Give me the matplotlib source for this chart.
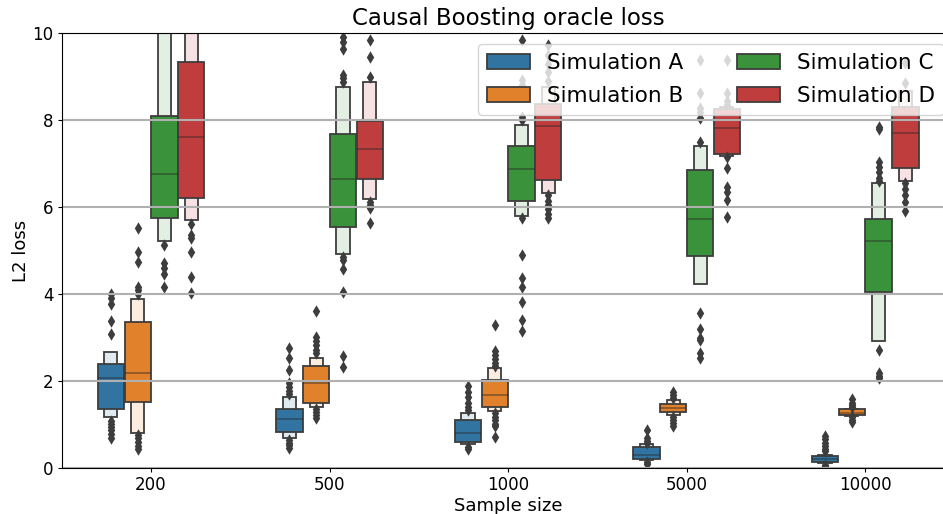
import colorsys
import matplotlib
matplotlib.use("Agg")
import matplotlib.pyplot as plt
import matplotlib.colors as mcolors
from matplotlib.patches import Rectangle

# ---------------- data ----------------
sizes = ["200", "500", "1000", "5000", "10000"]
sims = ["Simulation A", "Simulation B", "Simulation C", "Simulation D"]
base_colors = ["#1f77b4", "#ff7f0e", "#2ca02c", "#d62728"]

# Simulation A
med_A = [2.07, 1.11, 0.81, 0.29, 0.19]
q1_A = [1.35, 0.83, 0.60, 0.21, 0.13]
q3_A = [2.39, 1.36, 1.10, 0.48, 0.27]
lo_A = [1.17, 0.69, 0.54, 0.18, 0.10]
hi_A = [2.66, 1.63, 1.25, 0.54, 0.30]
out_A = [
    [4.01, 3.91, 3.77, 3.38, 3.07, 1.08, 1.00, 0.93, 0.86, 0.78, 0.68],
    [2.76, 2.52, 2.25, 1.94, 1.85, 1.77, 1.70, 0.64, 0.58, 0.52, 0.46],
    [1.88, 1.75, 1.62, 1.50, 1.40, 1.32, 0.48, 0.43],
    [0.87, 0.68, 0.62, 0.57, 0.14, 0.09],
    [0.73, 0.66, 0.58, 0.50, 0.44, 0.38, 0.06, 0.03],
]

# Simulation B
med_B = [2.17, 1.94, 1.67, 1.38, 1.27]
q1_B = [1.51, 1.50, 1.40, 1.29, 1.21]
q3_B = [3.35, 2.33, 2.02, 1.47, 1.34]
lo_B = [0.81, 1.40, 1.31, 1.21, 1.19]
hi_B = [3.88, 2.53, 2.29, 1.56, 1.36]
out_B = [
    [5.51, 4.96, 4.74, 4.15, 4.08, 4.01, 0.76, 0.68, 0.60, 0.50, 0.42],
    [3.61, 3.02, 2.92, 2.82, 2.72, 2.63, 1.36, 1.29, 1.22, 1.14],
    [3.29, 2.69, 2.60, 2.50, 2.40, 2.35, 1.25, 1.17, 1.09, 1.01, 0.95, 0.71],
    [1.75, 1.68, 1.61, 1.17, 1.10, 1.03, 0.96],
    [1.57, 1.50, 1.45, 1.40, 1.16, 1.10, 1.05],
]

# Simulation C
med_C = [6.75, 6.64, 6.87, 5.72, 5.22]
q1_C = [5.74, 5.55, 6.14, 4.87, 4.05]
q3_C = [8.10, 7.68, 7.41, 6.85, 5.72]
lo_C = [5.23, 4.92, 5.79, 4.23, 2.92]
hi_C = [11.0, 8.77, 7.89, 7.41, 6.56]
out_C = [
    [12.0, 11.6, 5.13, 4.71, 4.59, 4.47, 4.17],
    [9.92, 9.81, 9.65, 9.04, 8.96, 8.89, 4.86, 4.78, 4.57, 4.05, 2.57, 2.31],
    [9.85, 8.92, 8.81, 8.07, 8.00, 5.74, 4.90, 4.36, 4.17, 3.82, 3.40, 3.15],
    [9.39, 8.62, 8.28, 8.19, 8.04, 7.50, 3.55, 3.19, 2.98, 2.94, 2.63, 2.52],
    [7.85, 7.80, 7.04, 6.92, 6.80, 6.68, 6.60, 2.71, 2.17, 2.12, 2.06],
]

# Simulation D
med_D = [7.62, 7.34, 7.86, 7.81, 7.71]
q1_D = [6.22, 6.64, 6.62, 7.21, 6.91]
q3_D = [9.34, 7.99, 8.37, 8.25, 8.30]
lo_D = [5.70, 6.19, 6.33, 7.18, 6.60]
hi_D = [10.8, 8.87, 8.76, 8.30, 8.68]
out_D = [
    [11.8, 11.3, 5.61, 5.36, 5.28, 4.97, 4.40, 4.03],
    [9.85, 9.46, 9.00, 6.12, 6.05, 5.97, 5.63],
    [9.73, 9.50, 9.30, 9.10, 8.90, 6.28, 6.15, 6.05, 5.95, 5.85, 5.75],
    [9.39, 8.62, 8.45, 8.35, 7.16, 6.89, 6.47, 6.35, 6.16, 5.78],
    [9.31, 8.85, 6.55, 6.42, 6.28, 6.12, 5.92],
]

medians = [med_A, med_B, med_C, med_D]
q1s = [q1_A, q1_B, q1_C, q1_D]
q3s = [q3_A, q3_B, q3_C, q3_D]
los = [lo_A, lo_B, lo_C, lo_D]
his = [hi_A, hi_B, hi_C, hi_D]
outs = [out_A, out_B, out_C, out_D]


def desaturate(c, prop=0.75):
    r, g, b = mcolors.to_rgb(c)
    h, l, s = colorsys.rgb_to_hls(r, g, b)
    return colorsys.hls_to_rgb(h, l, s * prop)


colors = [desaturate(c) for c in base_colors]
lights = [tuple(v + 0.85 * (1 - v) for v in c) for c in colors]
lum = min(colorsys.rgb_to_hls(*c)[1] for c in colors) * 0.6
gray = (lum, lum, lum)
lw = 1.3

fig = plt.figure(figsize=(9.43, 5.14), dpi=100)
ax = fig.add_axes([61.75 / 943, 46.3 / 514, 892.75 / 943, 434.4 / 514])

n_hue = len(sims)
total_w = 0.6
hue_w = total_w / n_hue
offsets = [(-total_w / 2 + hue_w / 2) + j * hue_w for j in range(n_hue)]
box_w = hue_w * 0.98

for j in range(n_hue):
    for i in range(len(sizes)):
        cx = i + offsets[j]
        # outer letter-value box (half width, light)
        ax.add_patch(Rectangle((cx - box_w / 4, los[j][i]), box_w / 2,
                               his[j][i] - los[j][i], facecolor=lights[j],
                               edgecolor=gray, linewidth=lw, zorder=1))
        # inner box (full width)
        ax.add_patch(Rectangle((cx - box_w / 2, q1s[j][i]), box_w,
                               q3s[j][i] - q1s[j][i], facecolor=colors[j],
                               edgecolor=gray, linewidth=lw, zorder=1))
        ax.plot([cx - box_w / 2, cx + box_w / 2], [medians[j][i]] * 2,
                color=".15", alpha=0.45, linewidth=lw,
                solid_capstyle="butt", zorder=2)
        ys = outs[j][i]
        ax.scatter([cx] * len(ys), ys, marker="d", s=40, color=gray,
                   linewidths=0, zorder=1)

ax.set_xlim(-0.5, len(sizes) - 0.5)
ax.set_ylim(0, 10)
ax.set_xticks(range(len(sizes)))
ax.set_xticklabels(sizes)
ax.set_yticks([0, 2, 4, 6, 8, 10])
ax.tick_params(labelsize=12, length=2.6, pad=3.2)
ax.grid(axis="y", color="#b0b0b0", linewidth=1.5)
ax.set_xlabel("Sample size", fontsize=13, labelpad=2)
ax.set_ylabel("L2 loss", fontsize=13, labelpad=2)
ax.set_title("Causal Boosting oracle loss", fontsize=16.5)

handles = [Rectangle((0, 0), 0, 0, facecolor=colors[j], edgecolor=gray,
                     linewidth=lw) for j in range(n_hue)]
ax.legend(handles, sims, loc="upper right", ncol=2, fontsize=15.5,
          columnspacing=2.5, labelspacing=0.62)

fig.savefig("out.png", dpi=100)
